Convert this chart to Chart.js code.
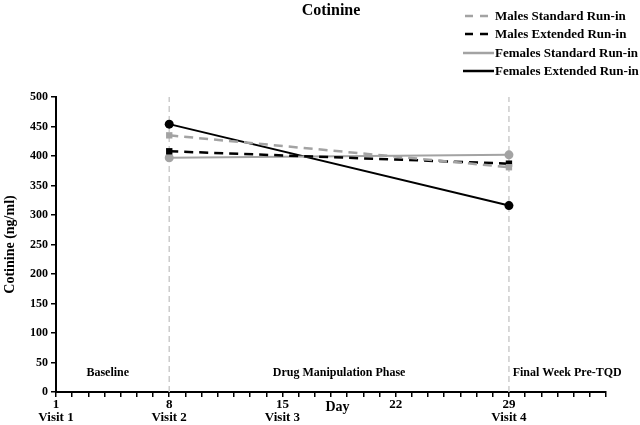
<!DOCTYPE html>
<html>
<head>
<meta charset="utf-8">
<script src="https://cdn.jsdelivr.net/npm/chart.js@4"></script>
<style>
    html, body { margin: 0; padding: 0; background: #fff; }
    #wrap { width: 640px; height: 425px; position: relative; }
</style>
</head>
<body>
<div id="wrap"><canvas id="chart"></canvas></div>
<script>
const days = [8, 29];
const malesStandard = [435, 381];
const malesExtended = [408, 387];
const femalesStandard = [397, 402];
const femalesExtended = [454, 316];

const seriesNames = ['Males Standard Run-in', 'Males Extended Run-in', 'Females Standard Run-in', 'Females Extended Run-in'];
const visitDays = [8, 29];
const tickLabels = { 1: ['1', 'Visit 1'], 8: ['8', 'Visit 2'], 15: ['15', 'Visit 3'], 22: ['22'], 29: ['29', 'Visit 4'] };
const phaseLabels = ['Baseline', 'Drug Manipulation Phase', 'Final Week Pre-TQD'];
const phaseDays = [4.2, 18.5, 32.6];
const phaseValue = 32;

const FONT = '"Liberation Serif", "Times New Roman", serif';
const GRAY = '#a3a3a3';
const BLACK = '#000000';

function toPoints(values) {
    return days.map((d, i) => ({ x: d, y: values[i] }));
}

function seriesDataset(label, values, color, dashed, shape) {
    return {
        label: label,
        data: toPoints(values),
        borderColor: color,
        backgroundColor: color,
        borderWidth: dashed ? 2.5 : 2,
        borderDash: dashed ? [9, 6] : [],
        pointStyle: shape,
        pointRadius: 4.5,
        pointBorderWidth: 0,
        order: 1
    };
}

const datasets = [
    seriesDataset(seriesNames[0], malesStandard, GRAY, true, 'rect'),
    seriesDataset(seriesNames[1], malesExtended, BLACK, true, 'rect'),
    seriesDataset(seriesNames[2], femalesStandard, GRAY, false, 'circle'),
    seriesDataset(seriesNames[3], femalesExtended, BLACK, false, 'circle')
];

visitDays.forEach(d => {
    datasets.push({
        label: 'guide',
        data: [{ x: d, y: 0 }, { x: d, y: 500 }],
        borderColor: '#cccccc',
        borderWidth: 1.5,
        borderDash: [6, 4],
        pointRadius: 0,
        order: 10
    });
});

const overlayPlugin = {
    id: 'overlay',
    afterDraw(chart) {
        const ctx = chart.ctx;
        const xs = chart.scales.x;
        const ys = chart.scales.y;
        const area = chart.chartArea;
        ctx.save();
        ctx.fillStyle = '#000';

        // title
        ctx.font = 'bold 16px ' + FONT;
        ctx.textAlign = 'center';
        ctx.textBaseline = 'middle';
        ctx.fillText('Cotinine', (area.left + area.right) / 2, 11);

        // phase labels
        ctx.font = 'bold 12px ' + FONT;
        phaseLabels.forEach((t, i) => {
            ctx.fillText(t, xs.getPixelForValue(phaseDays[i]), ys.getPixelForValue(phaseValue));
        });

        // axis title "Day"
        ctx.font = 'bold 14px ' + FONT;
        ctx.fillText('Day', xs.getPixelForValue(18.4), 407);

        // legend
        ctx.font = 'bold 13px ' + FONT;
        ctx.textAlign = 'left';
        const rowY = [16, 34, 53, 71];
        chart.data.datasets.slice(0, 4).forEach((ds, i) => {
            const y = rowY[i];
            ctx.strokeStyle = ds.borderColor;
            ctx.lineWidth = 2.5;
            ctx.setLineDash(ds.borderDash.length ? [8, 7] : []);
            ctx.beginPath();
            ctx.moveTo(ds.borderDash.length ? 465 : 463, y);
            ctx.lineTo(494, y);
            ctx.stroke();
            ctx.fillText(ds.label, 495, y + 1);
        });
        ctx.restore();
    }
};

new Chart(document.getElementById('chart'), {
    type: 'line',
    data: { datasets: datasets },
    plugins: [overlayPlugin],
    options: {
        responsive: true,
        maintainAspectRatio: false,
        animation: false,
        layout: { padding: { top: 97, right: 34, left: 2, bottom: 0 } },
        plugins: {
            legend: { display: false },
            title: { display: false },
            tooltip: { enabled: false }
        },
        scales: {
            x: {
                type: 'linear',
                min: 1,
                max: 35,
                afterFit: s => { s.height = 33; },
                afterBuildTicks: s => {
                    const t = [];
                    for (let d = 1; d <= 35; d++) t.push({ value: d });
                    s.ticks = t;
                },
                border: { color: '#000', width: 2 },
                grid: { drawOnChartArea: false, color: '#000', lineWidth: 1.5, tickLength: 5 },
                ticks: {
                    autoSkip: false,
                    maxRotation: 0,
                    padding: 1,
                    color: '#000',
                    font: { family: FONT, size: 13, weight: 'bold', lineHeight: 1.0 },
                    callback: v => tickLabels[v] || ''
                }
            },
            y: {
                min: 0,
                max: 500,
                afterFit: s => { s.width = 54; },
                border: { color: '#000', width: 2 },
                grid: { drawOnChartArea: false, color: '#000', lineWidth: 1.5, tickLength: 5 },
                ticks: {
                    stepSize: 50,
                    padding: 3,
                    color: '#000',
                    font: { family: FONT, size: 12, weight: 'bold' }
                },
                title: {
                    display: true,
                    text: 'Cotinine (ng/ml)',
                    color: '#000',
                    padding: 0,
                    font: { family: FONT, size: 14, weight: 'bold' }
                }
            }
        }
    }
});
</script>
</body>
</html>
